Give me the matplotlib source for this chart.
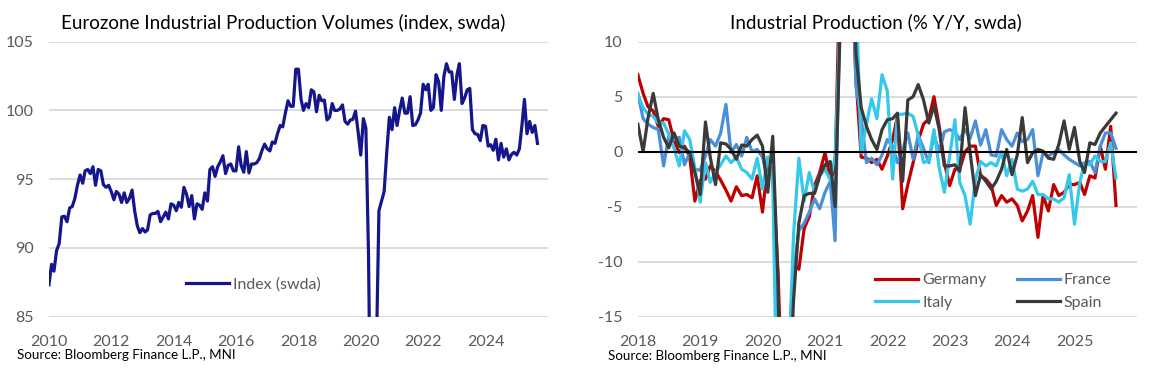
import numpy as np
import pandas as pd
import matplotlib
matplotlib.use('Agg')
import matplotlib.pyplot as plt
from matplotlib import font_manager

# fonts: Lato for most text, a narrow face for the source line if there is one
names = {f.name for f in font_manager.fontManager.ttflist}
main_font = 'Lato' if 'Lato' in names else 'DejaVu Sans'
narrow_font = 'Liberation Sans Narrow' if 'Liberation Sans Narrow' in names else main_font
plt.rcParams['font.family'] = [main_font, 'DejaVu Sans']

# ---- left chart: Eurozone IP index (swda), monthly, Dec 2009 .. Aug 2025
ez_index = [
    87.3, 88.8, 88.3, 89.8, 90.3, 92.25, 92.3, 91.9, 92.9, 93.0,
    93.6, 94.55, 95.3, 94.7, 95.6, 95.7, 95.4, 95.9, 94.55, 95.7,
    95.6, 94.6, 94.4, 94.55, 94.1, 93.5, 94.1, 93.9, 93.3, 94.0,
    93.3, 93.6, 94.2, 92.7, 91.6, 91.1, 91.4, 91.15, 91.3, 92.4,
    92.5, 92.5, 92.65, 91.9, 92.25, 92.6, 92.1, 93.2, 93.1, 92.7,
    93.3, 92.95, 94.4, 93.9, 93.0, 93.8, 92.1, 93.2, 93.1, 92.8,
    94.0, 93.4, 95.7, 95.9, 95.2, 95.9, 96.25, 96.7, 95.4, 96.0,
    96.1, 95.6, 95.6, 97.35, 96.0, 95.5, 97.0, 95.45, 96.1, 96.1,
    96.2, 96.5, 97.1, 97.55, 97.2, 97.05, 97.7, 97.6, 98.3, 98.9,
    98.8, 99.8, 100.7, 100.3, 100.3, 103.0, 103.0,
    100.8, 100.0, 100.5, 100.2, 101.5, 101.35, 99.9, 101.1, 100.7, 100.75,
    99.3, 99.5, 100.5, 100.0, 100.0, 100.1, 100.4, 99.2, 99.0, 99.3,
    99.35, 99.95, 98.45, 96.75, 99.4, 98.7,
    89.5, 73.0, 76.0, 82.0, 92.7, 93.4, 94.1, 97.0, 99.5,
    98.6, 100.2, 98.9, 100.0, 100.9, 99.8, 99.8, 101.0, 98.9, 98.95,
    99.3, 99.8, 101.9, 101.5, 101.9, 100.0, 100.2, 102.6, 102.1, 100.0,
    102.5, 103.4, 102.8, 102.8, 100.8, 102.6, 103.4, 100.5, 100.9, 101.5,
    101.6, 98.6, 98.3, 98.25, 97.8, 98.9, 98.85, 97.4, 97.5, 97.1,
    97.9, 96.4, 97.6, 96.6, 97.2, 96.4, 96.8, 96.95, 96.75, 97.2,
    98.8, 100.8, 98.3, 99.2, 98.4, 98.9, 97.6,
]
left_dates = pd.date_range('2009-12-31', periods=len(ez_index), freq='ME')
left_years = list(range(2010, 2025, 2))

# ---- right chart: IP % y/y, monthly, Dec 2017 .. Aug 2025
germany = [
    7.0, 5.3, 4.1, 3.7, 2.3, 3.0, 2.9, 1.0, -0.1, 0.5,
    -0.5, -4.5, -2.6, -2.5, -1.3, -1.8, -2.6, -3.5, -4.5, -3.2,
    -4.0, -3.9, -4.2, -2.2, -5.5, -1.2, -2.0, -11.0, -25.0, -19.0,
    -10.2, -10.7, -7.0, -5.9, -3.1, -1.9, -0.1, -2.5, -1.6, 18.0,
    29.0, 18.0, 6.8, -0.5, -0.6, -1.0, -0.7, -1.6, -0.4, 1.1,
    3.2, -5.2, -3.0, -1.0, 1.0, 2.5, 3.0, 5.0, 2.3, -1.0,
    -3.1, -1.6, -1.6, 0.0, 0.5, 0.5, -2.2, -2.5, -3.1, -4.9,
    -4.0, -4.6, -4.3, -4.9, -6.3, -5.4, -4.0, -7.8, -4.0, -5.4,
    -3.0, -4.0, -3.7, -3.0, -3.0, -2.8, -3.9, -2.2, -2.4, 0.5,
    -1.6, 2.3, -4.9,
]
france = [
    5.3, 3.0, 2.5, 2.2, 2.0, -1.3, 1.4, 1.1, 1.3, -1.2,
    -0.1, -1.6, -1.7, -0.4, 1.1, 0.5, 1.7, 4.3, -0.1, 0.65,
    -0.4, 1.3, 0.0, 0.2, -0.5, -2.5, -1.5, -16.0, -34.0, -22.0,
    -11.0, -7.2, -6.5, -5.5, -4.3, -5.2, -3.7, -2.7, -8.1, 15.0,
    45.0, 22.0, 6.0, 3.0, -1.0, -0.6, -1.2, -0.3, 1.1, 0.5,
    -1.0, 0.2, 1.7, -0.7, 1.5, 0.3, -1.0, 1.5, 0.0, 1.8,
    2.0, 1.8, 1.1, 2.0, 1.2, 2.8, 0.6, 2.0, -0.3, -0.4,
    2.0, 1.1, 0.5, 1.7, 0.9, 1.1, 2.0, -2.2, -0.1, -0.4,
    -0.1, 0.2, -0.3, -0.7, -1.0, -1.3, -1.0, -0.9, -1.9, 0.5,
    1.7, 1.7, 0.3,
]
italy = [
    5.2, 4.0, 3.4, 3.2, 2.6, 2.6, 1.6, 0.3, -1.3, 1.9,
    1.1, -1.5, -4.6, -1.0, -2.8, -1.9, -1.2, -0.4, -1.0, -0.5,
    -1.6, -1.9, -2.5, -0.6, -3.4, -0.5, -2.4, -29.0, -42.0, -20.0,
    -7.5, -0.6, -4.5, -1.9, -3.7, -2.2, -1.6, -2.6, -0.5, 12.0,
    80.0, 40.0, 15.0, -0.1, 2.5, 4.8, 3.0, 7.0, 5.5, -2.5,
    3.4, 3.4, 3.5, 3.2, 1.5, -1.0, -0.8, 2.0, -1.5, -3.7,
    -0.4, 2.9, -2.8, -4.0, -6.6, -2.5, -0.9, -1.3, -1.0, -1.3,
    0.0, -2.2, -0.7, -3.4, -3.6, -3.4, -2.7, -3.9, -3.9, -4.3,
    -4.3, -4.6, -4.2, -2.1, -6.6, -2.8, -1.0, -1.2, -0.4, -0.9,
    -0.9, 0.8, -2.4,
]
spain = [
    2.5, 0.0, 3.0, 5.3, 2.9, 1.3, 0.35, 1.7, 0.5, 0.35,
    -0.1, -1.9, -3.9, 2.7, -0.5, -3.0, 0.8, 0.7, 0.2, -0.7,
    0.6, 0.5, 1.1, 1.5, 0.5, -3.7, 1.4, -12.0, -34.0, -24.0,
    -13.5, -6.5, -4.0, -3.8, -3.8, -2.2, -1.2, -0.9, -5.0, 12.0,
    45.0, 25.0, 9.0, 4.0, 2.3, 1.1, 0.2, 2.0, 2.9, 3.0,
    3.5, -2.7, 4.7, 5.0, 6.1, 4.7, 2.6, 4.2, 2.0, -1.3,
    -1.3, -1.2, -1.8, 4.0, -0.1, -4.0, -2.1, -2.7, -3.4, -2.7,
    -1.6, 0.2, -2.1, -0.3, 3.1, -1.0, -0.1, 0.2, 0.05, -0.6,
    -0.7, 0.65, 2.8, 0.2, 2.2, -0.9, -1.9, 0.8, 0.65, 1.7,
    2.3, 2.9, 3.5,
]
right_dates = pd.date_range('2017-12-31', periods=len(germany), freq='ME')
right_years = list(range(2018, 2026))

grid_col = '#d9d9d9'
tick_col = '#595959'

fig = plt.figure(figsize=(11.62, 3.73), dpi=100)
ax1 = fig.add_axes([49 / 1162, 56.5 / 373, 499 / 1162, 274.8 / 373])
ax2 = fig.add_axes([638 / 1162, 56.5 / 373, 499 / 1162, 274.8 / 373])


def style_axis(ax, years, yticks, ylim):
    ax.set_ylim(*ylim)
    ax.set_yticks(yticks)
    ax.set_yticklabels([str(v) for v in yticks])
    ax.set_xticks([pd.Timestamp(f'{y}-01-01') for y in years])
    ax.set_xticklabels([str(y) for y in years])
    for s in ax.spines.values():
        s.set_visible(False)
    ax.grid(axis='y', color=grid_col, lw=1.3)
    ax.set_axisbelow(True)
    ax.tick_params(length=0, labelsize=11.5, colors=tick_col)
    ax.tick_params(axis='y', pad=11)
    ax.tick_params(axis='x', pad=13)


# left
ax1.plot(left_dates, ez_index, color='#16168c', lw=2.3, label='Index (swda)')
style_axis(ax1, left_years, [85, 90, 95, 100, 105], (85, 105))
ax1.set_xlim(pd.Timestamp('2010-01-01'), pd.Timestamp('2026-01-01'))
ax1.legend(loc='center left', bbox_to_anchor=(0.2745, 0.118), frameon=False,
           fontsize=11.5, handlelength=2.7, handletextpad=0.25,
           borderpad=0, borderaxespad=0, labelcolor=tick_col)

# right
lines = {}
for name, vals, col in [('Germany', germany, '#c00000'),
                        ('France', france, '#4a90d9'),
                        ('Italy', italy, '#33c8ec'),
                        ('Spain', spain, '#3a3a3a')]:
    lines[name], = ax2.plot(right_dates, vals, color=col, lw=2.3, label=name)
style_axis(ax2, right_years, [-15, -10, -5, 0, 5, 10], (-15, 10))
ax2.set_xlim(pd.Timestamp('2018-01-01'), pd.Timestamp('2026-01-01'))
ax2.axhline(0, color='black', lw=1.5, zorder=5)
ax2.legend([lines['Germany'], lines['Italy'], lines['France'], lines['Spain']],
           ['Germany', 'Italy', 'France', 'Spain'], ncol=2,
           loc='center left', bbox_to_anchor=(0.475, 0.091), frameon=False,
           fontsize=11.5, handlelength=2.7, handletextpad=0.25,
           columnspacing=1.9, labelspacing=0.55,
           borderpad=0, borderaxespad=0, labelcolor=tick_col)

# titles and sources
fig.text(283 / 1162, 1 - 22 / 373, 'Eurozone Industrial Production Volumes (index, swda)',
         ha='center', va='center', fontsize=13.5, color='black')
fig.text(876 / 1162, 1 - 22 / 373, 'Industrial Production (% Y/Y, swda)',
         ha='center', va='center', fontsize=13.5, color='black')
fig.text(17 / 1162, 1 - 355 / 373, 'Source: Bloomberg Finance L.P., MNI',
         ha='left', va='center', fontsize=9.6, color='black', family=narrow_font)
fig.text(608 / 1162, 1 - 356 / 373, 'Source: Bloomberg Finance L.P., MNI',
         ha='left', va='center', fontsize=9.6, color='black', family=narrow_font)

fig.savefig('out.png', dpi=100)
